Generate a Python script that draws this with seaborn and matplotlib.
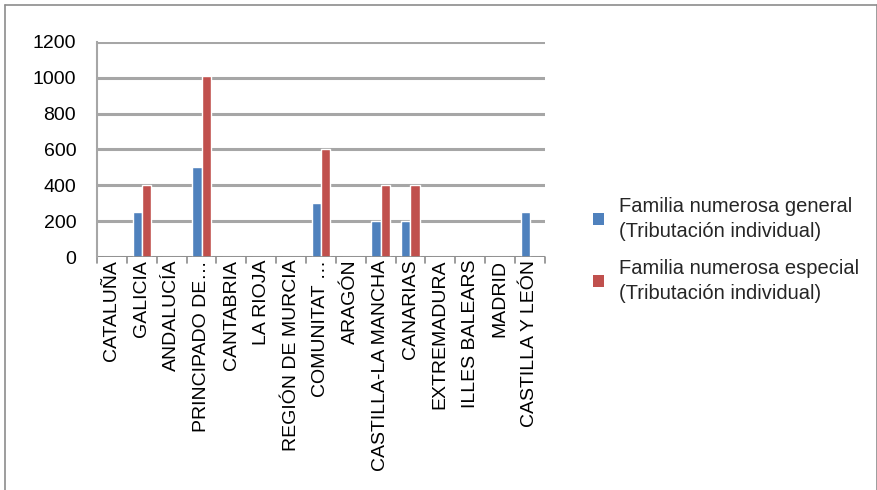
import pandas as pd
import matplotlib.pyplot as plt
import seaborn as sns
from matplotlib.lines import Line2D
from matplotlib.patches import Patch

# Datos
regiones = ["CATALUÑA", "GALICIA", "ANDALUCÍA", "PRINCIPADO DE…", "CANTABRIA",
            "LA RIOJA", "REGIÓN DE MURCIA", "COMUNITAT …", "ARAGÓN",
            "CASTILLA-LA MANCHA", "CANARIAS", "EXTREMADURA", "ILLES BALEARS",
            "MADRID", "CASTILLA Y LEÓN"]
general = [0, 250, 0, 500, 0, 0, 0, 300, 0, 200, 200, 0, 0, 0, 250]
especial = [0, 400, 0, 1010, 0, 0, 0, 600, 0, 400, 400, 0, 0, 0, 0]
series = ["Familia numerosa general\n(Tributación individual)",
          "Familia numerosa especial\n(Tributación individual)"]
colores = ["#4F81BD", "#C0504D"]

df = pd.DataFrame({
    "region": regiones * 2,
    "valor": general + especial,
    "serie": [series[0]] * len(regiones) + [series[1]] * len(regiones),
})

sns.set_theme(style="white")
plt.rcParams['font.family'] = ['Liberation Sans', 'DejaVu Sans']

fig = plt.figure(figsize=(8.78, 4.90), dpi=100)
ax = fig.add_axes([0.1105, 0.4755, 0.51, 0.439])

sns.barplot(data=df, x="region", y="valor", hue="serie", palette=colores,
            width=0.62, saturation=1, ax=ax, legend=False)

ax.set_ylim(0, 1200)
ax.set_yticks(range(0, 1201, 200))
ax.set_xlim(-0.5, len(regiones) - 0.5)
ax.yaxis.grid(True, color="#a6a6a6", linewidth=2.2)
ax.set_axisbelow(True)
ax.set_xlabel("")
ax.set_ylabel("")

for s in ["top", "right", "bottom"]:
    ax.spines[s].set_visible(False)
ax.spines["left"].set_color("#a6a6a6")
ax.spines["left"].set_linewidth(1.5)

ax.tick_params(axis="y", labelsize=14, colors="black", length=0, pad=15)
ax.tick_params(axis="x", labelsize=14, rotation=90, length=0, pad=2)
for lbl in ax.get_xticklabels():
    lbl.set_color("black")

# marcas del eje x entre categorias
for i in range(len(regiones) + 1):
    ax.plot([i - 0.5, i - 0.5], [0, -35], color="#8c8c8c", linewidth=1.2,
            clip_on=False)
ax.plot([-0.5, len(regiones) - 0.5], [0, 0], color="#8c8c8c", linewidth=1.2)

handles = [Patch(facecolor=c, edgecolor="none") for c in colores]
leg = fig.legend(handles, series, loc="center left", bbox_to_anchor=(0.655, 0.49),
                 frameon=False, fontsize=14.5, handlelength=0.55, handleheight=0.55,
                 handletextpad=0.75, labelspacing=0.9)
for t in leg.get_texts():
    t.set_linespacing(1.4)

# borde del grafico
for xs, ys in [([5, 5], [0, 485]), ([5, 877], [485, 485]), ([877, 877], [485, 0])]:
    fig.add_artist(Line2D([x / 878 for x in xs], [y / 490 for y in ys],
                          color="#8c8c8c", linewidth=1.2))

fig.savefig("out.png", dpi=100, facecolor="white")
